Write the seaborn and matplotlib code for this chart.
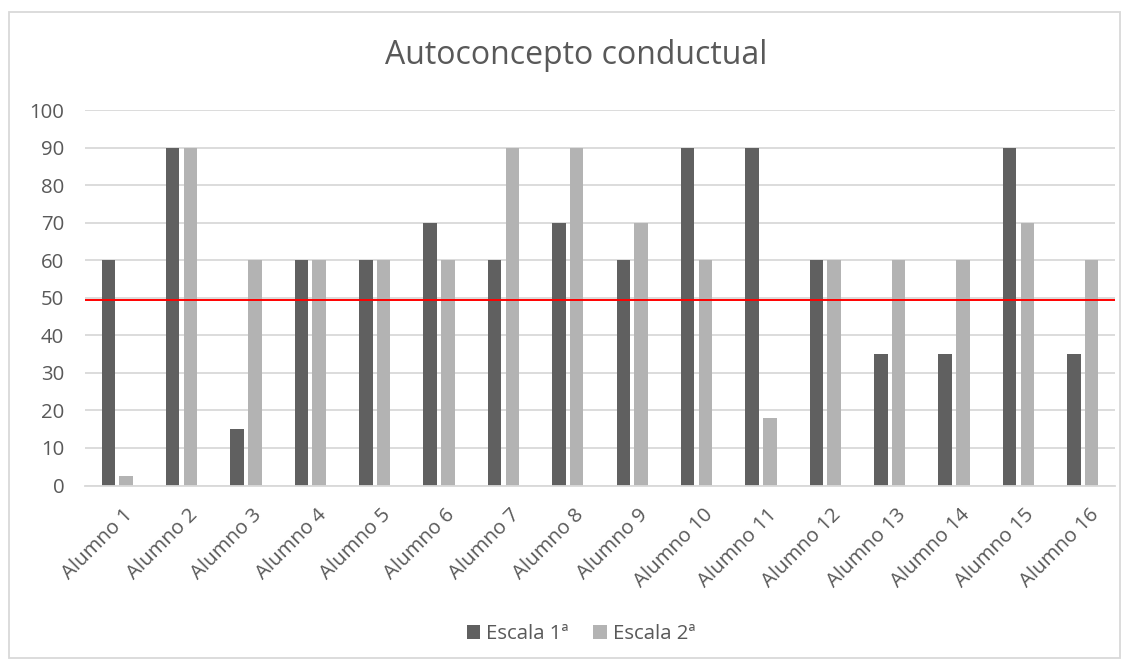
import matplotlib
matplotlib.use("Agg")
import matplotlib.pyplot as plt
from matplotlib.patches import Rectangle
from matplotlib.transforms import ScaledTranslation
import seaborn as sns
import pandas as pd

# Data
alumnos = [f"Alumno {i}" for i in range(1, 17)]
escala_1 = [60, 90, 15, 60, 60, 70, 60, 70, 60, 90, 90, 60, 35, 35, 90, 35]
escala_2 = [2.5, 90, 60, 60, 60, 60, 90, 90, 70, 60, 18, 60, 60, 60, 70, 60]
series = ["Escala 1ª", "Escala 2ª"]
reference_level = 49.5
title = "Autoconcepto conductual"

sns.set_theme(style="white")
plt.rcParams["font.family"] = ["Open Sans", "DejaVu Sans"]

text_color = "#595959"
grid_color = "#d9d9d9"
palette = {"Escala 1ª": "#606060", "Escala 2ª": "#b3b3b3"}
label_size = 14.7

df = pd.DataFrame({
    "Alumno": alumnos * 2,
    "Serie": [series[0]] * len(alumnos) + [series[1]] * len(alumnos),
    "Valor": escala_1 + escala_2,
})

W, H = 1131, 668
fig = plt.figure(figsize=(W / 100, H / 100), dpi=100)
ax = fig.add_axes([85 / W, 1 - 485.5 / H, 1030 / W, 375.5 / H])

sns.barplot(data=df, x="Alumno", y="Valor", hue="Serie", palette=palette,
            width=0.554, gap=0.242, ax=ax, legend=True, errorbar=None,
            edgecolor="none", saturation=1)

ax.set_ylim(0, 100)
ax.set_xlim(-0.5, len(alumnos) - 0.5)
ax.set_yticks(range(0, 101, 10))
ax.yaxis.grid(True, color=grid_color, linewidth=1.3)
ax.set_axisbelow(True)
ax.axhline(reference_level, color="#ff0000", linewidth=1.4, zorder=5)

for side in ["top", "right", "left"]:
    ax.spines[side].set_visible(False)
ax.spines["bottom"].set_color(grid_color)
ax.spines["bottom"].set_linewidth(1.3)

ax.set_xlabel("")
ax.set_ylabel("")
ax.tick_params(axis="both", length=0, colors=text_color, labelsize=label_size)
ax.tick_params(axis="y", pad=15)
ax.tick_params(axis="x", pad=14)
shift = ScaledTranslation(6 / 100, 0, fig.dpi_scale_trans)
for lbl in ax.get_xticklabels():
    lbl.set_rotation(45)
    lbl.set_ha("right")
    lbl.set_rotation_mode("anchor")
    lbl.set_transform(lbl.get_transform() + shift)

fig.text(576 / W, 1 - 56 / H, title, fontsize=23, color=text_color,
         ha="center", va="center")

handles, labels = ax.get_legend_handles_labels()
ax.legend(handles, labels, loc="center", bbox_to_anchor=(581 / W, 1 - 634 / H),
          bbox_transform=fig.transFigure, ncol=2, frameon=False,
          fontsize=label_size, labelcolor=text_color,
          handlelength=0.65, handleheight=0.65, handletextpad=0.3,
          columnspacing=1.2, borderpad=0, borderaxespad=0)

# Chart frame
fig.patches.append(Rectangle((9 / W, 10 / H), 1111 / W, 646 / H,
                             transform=fig.transFigure, fill=False,
                             edgecolor=grid_color, linewidth=1.3))

fig.savefig("out.png", dpi=100)
